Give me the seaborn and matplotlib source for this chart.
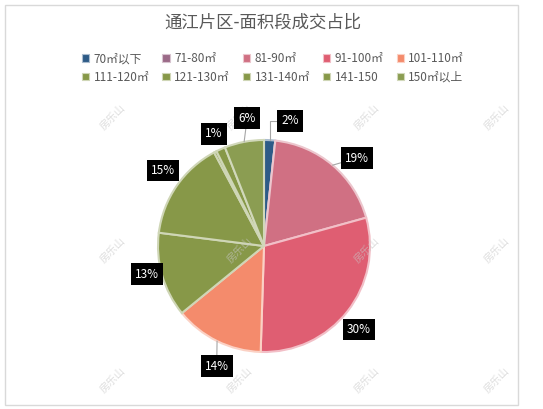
import matplotlib
matplotlib.use('Agg')
import numpy as np
import matplotlib.pyplot as plt
import seaborn as sns
from matplotlib.patches import Patch, Rectangle
from matplotlib.colors import to_rgb

# Data
categories = ['70㎡以下', '71-80㎡', '81-90㎡', '91-100㎡', '101-110㎡',
              '111-120㎡', '121-130㎡', '131-140㎡', '141-150', '150㎡以上']
shares = [1.7, 0, 19.0, 29.8, 13.6, 12.9, 15.2, 0.4, 1.4, 6.0]
colors = ['#2e5b87', '#9b6a88', '#d07083', '#df5e72', '#f48b6c',
          '#879848', '#879848', '#879848', '#879848', '#8b9d52']
title = '通江片区-面积段成交占比'
watermark = '房乐山'

# label nudges (px, right/down) from the default spot, and which get a leader line
label_shift = [(19, 2), (0, 0), (11, 9), (-5, 5), (9, 6), (5, -7), (4, -3), (0, 0), (2, 4), (7, -3)]
leader = [True, False, True, False, True, False, False, False, False, True]

sns.set_theme(style='white')
plt.rcParams['font.family'] = ['Noto Sans CJK SC', 'DejaVu Sans']

W, H = 543, 409
fig = plt.figure(figsize=(W / 100, H / 100), dpi=100)

# outer chart border
fig.patches.append(Rectangle((5 / W, 4 / H), 513 / W, 400 / H, transform=fig.transFigure,
                             fill=False, ec='#d9d9d9', lw=1))

# pie axes: center (264, 246) px, radius 106 px, limits +-1.5
cx, cy, r = 264, 246, 106
half = 1.5 * r
ax = fig.add_axes([(cx - half) / W, (H - cy - half) / H, 2 * half / W, 2 * half / H])


def light(c, f=0.6):
    rgb = to_rgb(c)
    return tuple(v + (1 - v) * f for v in rgb)


wedges, _ = ax.pie(
    shares, colors=colors, startangle=90, counterclock=False, radius=1,
    wedgeprops=dict(linewidth=1.5),
)
for w, c in zip(wedges, colors):
    w.set_edgecolor(light(c))

total = sum(shares)
for w, v, (sx, sy), lead in zip(wedges, shares, label_shift, leader):
    pct = v / total * 100
    if pct < 0.5:
        continue
    mid = np.deg2rad((w.theta1 + w.theta2) / 2)
    lx = 1.2 * np.cos(mid) + sx / r
    ly = 1.2 * np.sin(mid) - sy / r
    arrow = None
    if lead:
        conn = 'angle,angleA=0,angleB=90,rad=0' if pct < 3 else 'arc3'
        arrow = dict(arrowstyle='-', color='#a6a6a6', lw=0.8,
                     shrinkA=0, shrinkB=0, connectionstyle=conn)
    ax.annotate(f'{pct:.0f}%', xy=(np.cos(mid), np.sin(mid)), xytext=(lx, ly),
                ha='center', va='center', color='white', fontsize=8.5,
                bbox=dict(boxstyle='square,pad=0.35', fc='black', ec='none'),
                arrowprops=arrow, zorder=5)

ax.set_xlim(-1.5, 1.5)
ax.set_ylim(-1.5, 1.5)
ax.set_aspect('equal')
ax.axis('off')

# watermarks: above the wedges, below the data labels
for wy in [117, 250, 380]:
    for wx in [113, 240, 367, 497]:
        ax.text(wx / W, 1 - wy / H, watermark, transform=fig.transFigure,
                rotation=45, fontsize=7.5, color='#c8c8c8', alpha=0.6,
                ha='center', va='center', zorder=2, clip_on=False)

fig.text(263 / W, 1 - 23 / H, title, fontsize=12.5, color='#595959',
         ha='center', va='center')

# legend (ordered so rows read left to right)
handles = [Patch(facecolor=c, edgecolor=light(c), lw=0.8) for c in colors]
order = [0, 5, 1, 6, 2, 7, 3, 8, 4, 9]
fig.legend([handles[i] for i in order], [categories[i] for i in order],
           ncol=5, loc='center', bbox_to_anchor=(273 / W, 1 - 68 / H),
           frameon=False, fontsize=8.5, handlelength=0.6, handleheight=0.6,
           handletextpad=0.4, columnspacing=1.1, labelspacing=0.45,
           labelcolor='#595959')

fig.savefig('out.png', dpi=100)
